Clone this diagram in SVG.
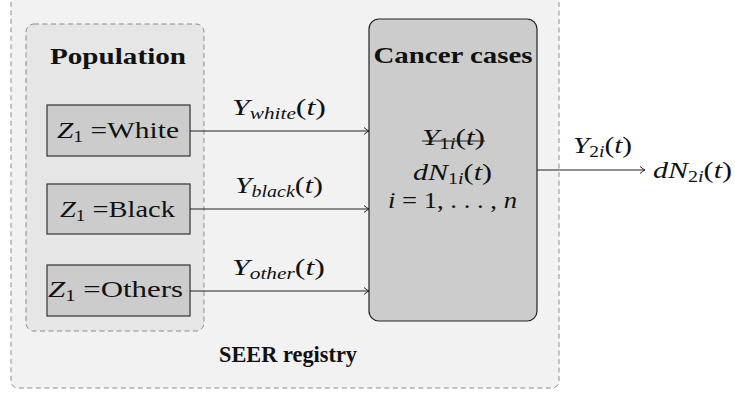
<svg xmlns="http://www.w3.org/2000/svg" width="735" height="396" viewBox="0 0 735 396">
<style>
text{font-family:"Liberation Serif","DejaVu Serif",serif;font-size:24px;fill:#111}
.b{font-weight:bold}
.i{font-style:italic}
.s{font-size:16px}
.box{fill:#cccccc;stroke:#333;stroke-width:1.2}
.dash{stroke:#8c8c8c;stroke-width:1;stroke-dasharray:5 3.5}
.edge{stroke:#222;stroke-width:1.1;fill:none;marker-end:url(#arr)}
</style>
<defs>
<marker id="arr" markerUnits="userSpaceOnUse" markerWidth="10" markerHeight="10" viewBox="-6 -5 7 10" refX="0" refY="0" orient="auto">
<path d="M-5,-3.5 Q-2,-0.8 0,0 Q-2,0.8 -5,3.5" fill="none" stroke="#222" stroke-width="1"/>
</marker>
</defs>
<rect width="735" height="396" fill="#fff"/>
<g id="seer">
<rect class="dash" x="11" y="-4" width="548" height="392" rx="7" fill="#f2f2f2"/>
<text class="b" x="288" y="362" text-anchor="middle" textLength="138" lengthAdjust="spacingAndGlyphs">SEER registry</text>
</g>
<g id="population">
<rect class="dash" x="26" y="24" width="178" height="307" rx="8" fill="#e6e6e6"/>
<text class="b" x="118" y="64" text-anchor="middle" textLength="136" lengthAdjust="spacingAndGlyphs">Population</text>
</g>
<g id="white">
<rect class="box" x="47" y="105" width="143" height="51"/>
<text x="57" y="137.5" textLength="122" lengthAdjust="spacingAndGlyphs"><tspan class="i">Z</tspan><tspan class="s" dy="4">1</tspan><tspan dy="-4"> =White</tspan></text>
</g>
<g id="black">
<rect class="box" x="47" y="184" width="143" height="50"/>
<text x="60" y="216.5" textLength="115" lengthAdjust="spacingAndGlyphs"><tspan class="i">Z</tspan><tspan class="s" dy="4">1</tspan><tspan dy="-4"> =Black</tspan></text>
</g>
<g id="others">
<rect class="box" x="47" y="265" width="143" height="51"/>
<text x="48" y="297" textLength="135" lengthAdjust="spacingAndGlyphs"><tspan class="i">Z</tspan><tspan class="s" dy="4">1</tspan><tspan dy="-4"> =Others</tspan></text>
</g>
<g id="cancer">
<rect x="369" y="19" width="168" height="302" rx="10" fill="#cccccc" stroke="#222" stroke-width="1.2"/>
<text class="b" x="453" y="63" text-anchor="middle" textLength="159" lengthAdjust="spacingAndGlyphs">Cancer cases</text>
<text x="422" y="145" textLength="63" lengthAdjust="spacingAndGlyphs"><tspan class="i">Y</tspan><tspan class="s" dy="4">1<tspan class="i">i</tspan></tspan><tspan dy="-4">(</tspan><tspan class="i">t</tspan>)</text>
<line x1="422" y1="141" x2="485" y2="141" stroke="#222" stroke-width="1.1"/>
<text x="413" y="180" textLength="79" lengthAdjust="spacingAndGlyphs"><tspan class="i">dN</tspan><tspan class="s" dy="4">1<tspan class="i">i</tspan></tspan><tspan dy="-4">(</tspan><tspan class="i">t</tspan>)</text>
<text x="388" y="208" textLength="129" lengthAdjust="spacingAndGlyphs"><tspan class="i">i</tspan> = 1, . . . , <tspan class="i">n</tspan></text>
</g>
<g id="out">
<text x="653" y="178" textLength="79" lengthAdjust="spacingAndGlyphs"><tspan class="i">dN</tspan><tspan class="s" dy="4">2<tspan class="i">i</tspan></tspan><tspan dy="-4">(</tspan><tspan class="i">t</tspan>)</text>
</g>
<g id="connectors">
<line class="edge" x1="190" y1="131" x2="369" y2="131"/>
<line class="edge" x1="190" y1="209" x2="369" y2="209"/>
<line class="edge" x1="190" y1="291" x2="369" y2="291"/>
<line class="edge" x1="537" y1="170" x2="645" y2="170"/>
<text x="232" y="115" textLength="94" lengthAdjust="spacingAndGlyphs"><tspan class="i">Y</tspan><tspan class="s i" dy="4">white</tspan><tspan dy="-4">(</tspan><tspan class="i">t</tspan>)</text>
<text x="235" y="193" textLength="88" lengthAdjust="spacingAndGlyphs"><tspan class="i">Y</tspan><tspan class="s i" dy="4">black</tspan><tspan dy="-4">(</tspan><tspan class="i">t</tspan>)</text>
<text x="232" y="275" textLength="93" lengthAdjust="spacingAndGlyphs"><tspan class="i">Y</tspan><tspan class="s i" dy="4">other</tspan><tspan dy="-4">(</tspan><tspan class="i">t</tspan>)</text>
<text x="573" y="153" textLength="59" lengthAdjust="spacingAndGlyphs"><tspan class="i">Y</tspan><tspan class="s" dy="4">2<tspan class="i">i</tspan></tspan><tspan dy="-4">(</tspan><tspan class="i">t</tspan>)</text>
</g>
</svg>
